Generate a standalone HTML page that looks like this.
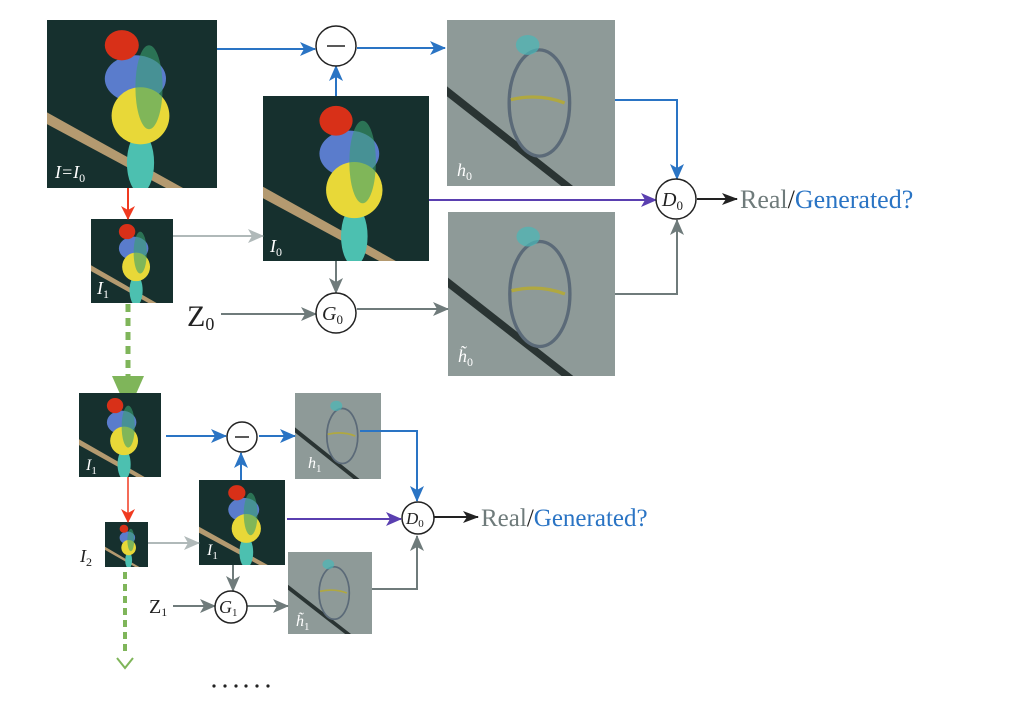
<!DOCTYPE html>
<html><head><meta charset="utf-8"><style>
html,body{margin:0;padding:0;background:#fff;}
svg{display:block;}
text{font-family:"Liberation Serif",serif;}
tspan.s{font-style:normal;}
</style></head><body>
<svg width="1034" height="706" viewBox="0 0 1034 706" xmlns="http://www.w3.org/2000/svg">
<defs>
<marker id="ab" markerWidth="16" markerHeight="14" refX="15" refY="7" orient="auto" markerUnits="userSpaceOnUse"><path d="M0,0 L16,7 L0,14 L4,7 Z" fill="#2a74c4"/></marker>
<marker id="ag" markerWidth="16" markerHeight="14" refX="15" refY="7" orient="auto" markerUnits="userSpaceOnUse"><path d="M0,0 L16,7 L0,14 L4,7 Z" fill="#6f7b7b"/></marker>
<marker id="al" markerWidth="16" markerHeight="14" refX="15" refY="7" orient="auto" markerUnits="userSpaceOnUse"><path d="M0,0 L16,7 L0,14 L4,7 Z" fill="#b0b9b9"/></marker>
<marker id="ap" markerWidth="16" markerHeight="14" refX="15" refY="7" orient="auto" markerUnits="userSpaceOnUse"><path d="M0,0 L16,7 L0,14 L4,7 Z" fill="#5a3fb0"/></marker>
<marker id="ak" markerWidth="16" markerHeight="12" refX="15" refY="6" orient="auto" markerUnits="userSpaceOnUse"><path d="M0,0 L16,6 L0,12 L4,6 Z" fill="#222"/></marker>
<marker id="ar" markerWidth="14" markerHeight="14" refX="13" refY="7" orient="auto" markerUnits="userSpaceOnUse"><path d="M0,0 L14,7 L0,14 L4,7 Z" fill="#f03a20"/></marker>
<symbol id="bird" viewBox="0 0 100 100" preserveAspectRatio="none">
<rect width="100" height="100" fill="#16302e"/>
<path d="M0,55 L80,100 L70,100 L0,62Z" fill="#b49a70"/>
<ellipse cx="55" cy="85" rx="8" ry="18" fill="#4cc0b0"/>
<ellipse cx="52" cy="35" rx="18" ry="14" fill="#5a7ccc"/>
<ellipse cx="55" cy="57" rx="17" ry="17" fill="#e8d838"/>
<ellipse cx="60" cy="40" rx="8" ry="25" fill="#3aa070" opacity=".6"/>
<ellipse cx="44" cy="15" rx="10" ry="9" fill="#d83018"/>
</symbol>
<symbol id="res" viewBox="0 0 100 100" preserveAspectRatio="none">
<rect width="100" height="100" fill="#8e9a98"/>
<path d="M0,40 L75,100 L68,100 L0,46Z" fill="#2a3433"/>
<ellipse cx="55" cy="50" rx="18" ry="32" fill="none" stroke="#5b6a78" stroke-width="2"/>
<ellipse cx="48" cy="15" rx="7" ry="6" fill="#4ab8b8" opacity=".7"/>
<path d="M38,48 Q55,44 70,50" stroke="#b0a840" stroke-width="2" fill="none"/>
</symbol>
</defs>

<use href="#bird" x="47" y="20" width="170" height="168"/>
<use href="#bird" x="263" y="96" width="166" height="165"/>
<use href="#res" x="447" y="20" width="168" height="166"/>
<use href="#res" x="448" y="212" width="167" height="164"/>
<use href="#bird" x="91" y="219" width="82" height="84"/>

<g fill="#fff" font-style="italic" font-size="18">
<text x="55" y="178">I=I<tspan class="s" font-size="12" dy="4">0</tspan></text>
<text x="270" y="252">I<tspan class="s" font-size="12" dy="4">0</tspan></text>
<text x="457" y="176">h<tspan class="s" font-size="12" dy="4">0</tspan></text>
<text x="458" y="362">h̃<tspan class="s" font-size="12" dy="4">0</tspan></text>
<text x="97" y="294">I<tspan class="s" font-size="12" dy="4">1</tspan></text>
</g>

<line x1="217" y1="49" x2="315" y2="49" stroke="#2a74c4" stroke-width="2" marker-end="url(#ab)"/>
<line x1="357" y1="48" x2="445" y2="48" stroke="#2a74c4" stroke-width="2" marker-end="url(#ab)"/>
<line x1="336" y1="96" x2="336" y2="66" stroke="#2a74c4" stroke-width="2" marker-end="url(#ab)"/>
<circle cx="336" cy="46" r="20" fill="#fff" stroke="#222" stroke-width="1.5"/>
<line x1="327" y1="46" x2="345" y2="46" stroke="#222" stroke-width="1.5"/>
<polyline points="615,100 677,100 677,179" fill="none" stroke="#2a74c4" stroke-width="2" marker-end="url(#ab)"/>
<line x1="429" y1="200" x2="656" y2="200" stroke="#5a3fb0" stroke-width="2" marker-end="url(#ap)"/>
<polyline points="615,294 677,294 677,220" fill="none" stroke="#6f7b7b" stroke-width="2" marker-end="url(#ag)"/>
<circle cx="676" cy="199" r="20" fill="#fff" stroke="#222" stroke-width="1.5"/>
<text x="662" y="206" font-style="italic" font-size="20" fill="#222">D<tspan class="s" font-size="13" dy="4">0</tspan></text>
<line x1="697" y1="199" x2="737" y2="199" stroke="#222" stroke-width="2" marker-end="url(#ak)"/>
<text x="740" y="208" font-size="26" fill="#6f7b7b">Real<tspan fill="#222">/</tspan><tspan fill="#2a74c4">Generated?</tspan></text>

<line x1="173" y1="236" x2="263" y2="236" stroke="#b0b9b9" stroke-width="2" marker-end="url(#al)"/>
<line x1="336" y1="261" x2="336" y2="293" stroke="#6f7b7b" stroke-width="2" marker-end="url(#ag)"/>
<line x1="221" y1="314" x2="316" y2="314" stroke="#6f7b7b" stroke-width="2" marker-end="url(#ag)"/>
<line x1="357" y1="309" x2="448" y2="309" stroke="#6f7b7b" stroke-width="2" marker-end="url(#ag)"/>
<circle cx="336" cy="313" r="20" fill="#fff" stroke="#222" stroke-width="1.5"/>
<text x="322" y="320" font-style="italic" font-size="20" fill="#222">G<tspan class="s" font-size="13" dy="4">0</tspan></text>
<text x="187" y="326" font-size="30" fill="#222">Z<tspan font-size="18" dy="4">0</tspan></text>

<line x1="128" y1="188" x2="128" y2="219" stroke="#f03a20" stroke-width="2" marker-end="url(#ar)"/>
<line x1="128" y1="304" x2="128" y2="380" stroke="#7fb55a" stroke-width="5" stroke-dasharray="8,6"/>
<path d="M112,376 L144,376 L128,412 Z" fill="#7fb55a"/>

<use href="#bird" x="79" y="393" width="82" height="84"/>
<use href="#res" x="295" y="393" width="86" height="86"/>
<use href="#bird" x="199" y="480" width="86" height="85"/>
<use href="#bird" x="105" y="522" width="43" height="45"/>
<use href="#res" x="288" y="552" width="84" height="82"/>
<g fill="#fff" font-style="italic" font-size="16">
<text x="86" y="470">I<tspan class="s" font-size="11" dy="4">1</tspan></text>
<text x="308" y="468">h<tspan class="s" font-size="11" dy="4">1</tspan></text>
<text x="207" y="555">I<tspan class="s" font-size="11" dy="4">1</tspan></text>
<text x="296" y="626">h̃<tspan class="s" font-size="11" dy="4">1</tspan></text>
</g>
<text x="80" y="562" font-style="italic" font-size="18" fill="#222">I<tspan class="s" font-size="12" dy="4">2</tspan></text>

<line x1="166" y1="436" x2="226" y2="436" stroke="#2a74c4" stroke-width="2" marker-end="url(#ab)"/>
<line x1="259" y1="436" x2="295" y2="436" stroke="#2a74c4" stroke-width="2" marker-end="url(#ab)"/>
<line x1="241" y1="480" x2="241" y2="453" stroke="#2a74c4" stroke-width="2" marker-end="url(#ab)"/>
<circle cx="242" cy="437" r="15" fill="#fff" stroke="#222" stroke-width="1.5"/>
<line x1="235" y1="437" x2="249" y2="437" stroke="#222" stroke-width="1.5"/>
<polyline points="360,431 417,431 417,501" fill="none" stroke="#2a74c4" stroke-width="2" marker-end="url(#ab)"/>
<line x1="287" y1="519" x2="401" y2="519" stroke="#5a3fb0" stroke-width="2" marker-end="url(#ap)"/>
<polyline points="372,589 417,589 417,536" fill="none" stroke="#6f7b7b" stroke-width="2" marker-end="url(#ag)"/>
<circle cx="418" cy="518" r="16" fill="#fff" stroke="#222" stroke-width="1.5"/>
<text x="406" y="524" font-style="italic" font-size="17" fill="#222">D<tspan class="s" font-size="11" dy="3">0</tspan></text>
<line x1="434" y1="517" x2="478" y2="517" stroke="#222" stroke-width="2" marker-end="url(#ak)"/>
<text x="481" y="526" font-size="25" fill="#6f7b7b">Real<tspan fill="#222">/</tspan><tspan fill="#2a74c4">Generated?</tspan></text>

<line x1="148" y1="543" x2="199" y2="543" stroke="#b0b9b9" stroke-width="2" marker-end="url(#al)"/>
<line x1="233" y1="565" x2="233" y2="591" stroke="#6f7b7b" stroke-width="2" marker-end="url(#ag)"/>
<line x1="173" y1="606" x2="215" y2="606" stroke="#6f7b7b" stroke-width="2" marker-end="url(#ag)"/>
<line x1="247" y1="606" x2="288" y2="606" stroke="#6f7b7b" stroke-width="2" marker-end="url(#ag)"/>
<circle cx="231" cy="607" r="16" fill="#fff" stroke="#222" stroke-width="1.5"/>
<text x="219" y="613" font-style="italic" font-size="18" fill="#222">G<tspan class="s" font-size="11" dy="3">1</tspan></text>
<text x="149" y="613" font-size="20" fill="#222">Z<tspan font-size="12" dy="3">1</tspan></text>

<line x1="128" y1="477" x2="128" y2="522" stroke="#f03a20" stroke-width="1.5" marker-end="url(#ar)"/>
<line x1="125" y1="572" x2="125" y2="655" stroke="#7fb55a" stroke-width="4" stroke-dasharray="7,5"/>
<polyline points="117,658 125,668 133,658" fill="none" stroke="#7fb55a" stroke-width="2"/>
<g fill="#222">
<circle cx="214" cy="686" r="1.6"/><circle cx="225" cy="686" r="1.6"/><circle cx="236" cy="686" r="1.6"/>
<circle cx="246" cy="686" r="1.6"/><circle cx="257" cy="686" r="1.6"/><circle cx="268" cy="686" r="1.6"/>
</g>
</svg>
</body></html>
